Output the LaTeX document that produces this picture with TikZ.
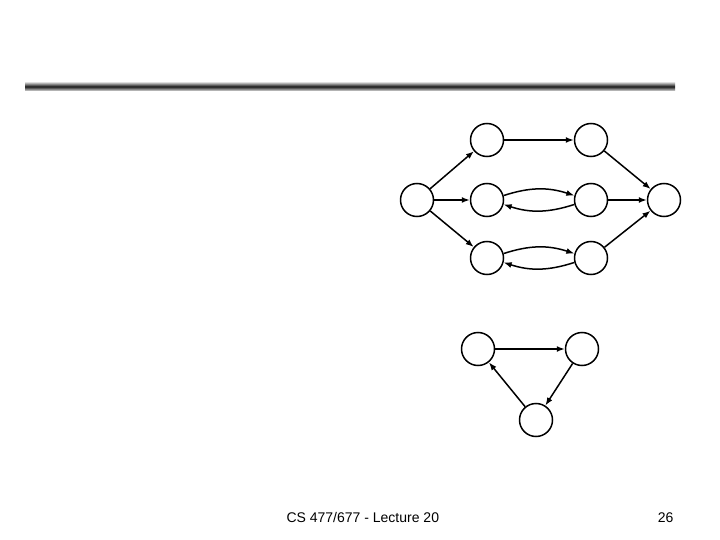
\documentclass[tikz,border=0pt]{standalone}
\usepackage{fontspec}
\setmainfont{Liberation Sans}
\usetikzlibrary{arrows.meta}
\begin{document}
\begin{tikzpicture}[x=1pt,y=-1pt,
  vtx/.style={circle,draw=black,line width=1.5pt,minimum size=33pt,inner sep=0pt},
  arr/.style={line width=1.5pt,-{Latex[length=8pt,width=6pt]}},
  footer/.style={font=\fontsize{14}{16}\selectfont,anchor=base west}]
\useasboundingbox (0,0) rectangle (720,540);
% rule bar
\shade[top color=gray!25,bottom color=gray!25,middle color=black!90] (25,82) rectangle (675,91);
% upper graph
\node[vtx] (a) at (417,200) {};
\node[vtx] (b1) at (487,140) {};
\node[vtx] (c1) at (591,140) {};
\node[vtx] (b2) at (487,200) {};
\node[vtx] (c2) at (591,200) {};
\node[vtx] (b3) at (487,258) {};
\node[vtx] (c3) at (591,258) {};
\node[vtx] (d) at (664,200) {};
\draw[arr] (a) -- (b1);
\draw[arr] (a) -- (b2);
\draw[arr] (a) -- (b3);
\draw[arr] (b1) -- (c1);
\draw[arr] (c1) -- (d);
\draw[arr] (c2) -- (d);
\draw[arr] (c3) -- (d);
\draw[arr] (b2.15) to[bend left=18] (c2.165);
\draw[arr] (c2.195) to[bend left=18] (b2.-15);
\draw[arr] (b3.15) to[bend left=18] (c3.165);
\draw[arr] (c3.195) to[bend left=18] (b3.-15);
% triangle
\node[vtx] (t1) at (478,349) {};
\node[vtx] (t2) at (582,349) {};
\node[vtx] (t3) at (536,420) {};
\draw[arr] (t1) -- (t2);
\draw[arr] (t2) -- (t3);
\draw[arr] (t3) -- (t1);
% footer
\node[footer] (ft) at (283,522) {CS 477/677 - Lecture 20};
\node[footer,anchor=base east] (pg) at (677,522) {26};
\end{tikzpicture}
\end{document}
